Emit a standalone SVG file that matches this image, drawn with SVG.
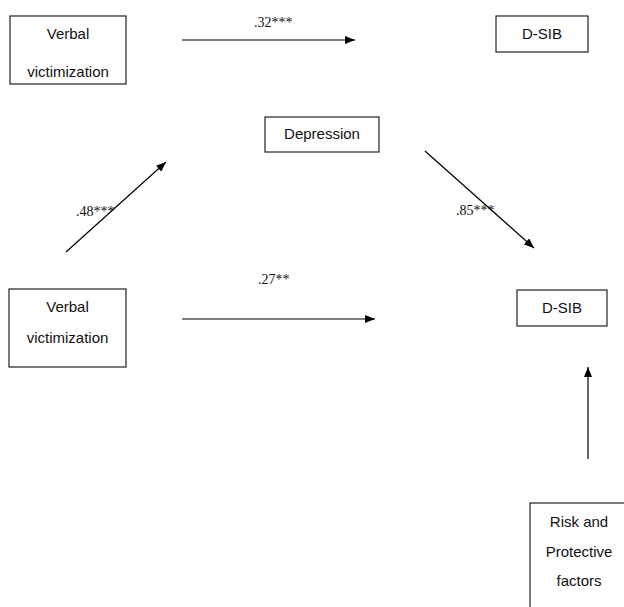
<svg xmlns="http://www.w3.org/2000/svg" width="624" height="607" viewBox="0 0 624 607">
<defs>
<marker id="ah" viewBox="0 0 10 8" refX="10" refY="4" markerWidth="10" markerHeight="8" markerUnits="userSpaceOnUse" orient="auto">
<path d="M0,0 L10,4 L0,8 Z" fill="#000"/>
</marker>
</defs>
<style>
.box{fill:#fff;stroke:#222;stroke-width:1.2}
.t{font-family:"Liberation Sans",Arial,sans-serif;font-size:15px;fill:#111;text-anchor:middle}
.lbl{font-family:"Liberation Serif","Times New Roman",serif;font-size:14px;fill:#111}
.c{stroke:#000;stroke-width:1.2;fill:none;marker-end:url(#ah)}
</style>
<rect width="624" height="607" fill="#fff"/>
<g id="verbal-top">
<rect class="box" x="10" y="16" width="116" height="68"/>
<text class="t" x="68" y="39">Verbal</text>
<text class="t" x="68" y="77">victimization</text>
</g>
<g id="dsib-top">
<rect class="box" x="496" y="16" width="92" height="36"/>
<text class="t" x="542" y="39">D-SIB</text>
</g>
<g id="depression">
<rect class="box" x="265" y="117" width="114" height="35"/>
<text class="t" x="322" y="139">Depression</text>
</g>
<g id="verbal-bottom">
<rect class="box" x="9" y="289" width="117" height="78"/>
<text class="t" x="67.5" y="312">Verbal</text>
<text class="t" x="67.5" y="343">victimization</text>
</g>
<g id="dsib-bottom">
<rect class="box" x="517" y="290" width="90" height="36"/>
<text class="t" x="562" y="313">D-SIB</text>
</g>
<g id="risk">
<rect class="box" x="530" y="503" width="100" height="110"/>
<text class="t" x="579" y="527">Risk and</text>
<text class="t" x="579" y="557">Protective</text>
<text class="t" x="579" y="586">factors</text>
</g>
<g id="connectors">
<line class="c" x1="182" y1="40" x2="355" y2="40"/>
<line class="c" x1="66" y1="252" x2="166" y2="162"/>
<line class="c" x1="425" y1="151" x2="534" y2="248"/>
<line class="c" x1="182" y1="319" x2="375" y2="319"/>
<line class="c" x1="588" y1="459" x2="588" y2="367"/>
</g>
<g id="labels">
<text class="lbl" x="254" y="27">.32***</text>
<text class="lbl" x="76" y="216">.48***</text>
<text class="lbl" x="456" y="215">.85***</text>
<text class="lbl" x="258" y="284">.27**</text>
</g>
</svg>
